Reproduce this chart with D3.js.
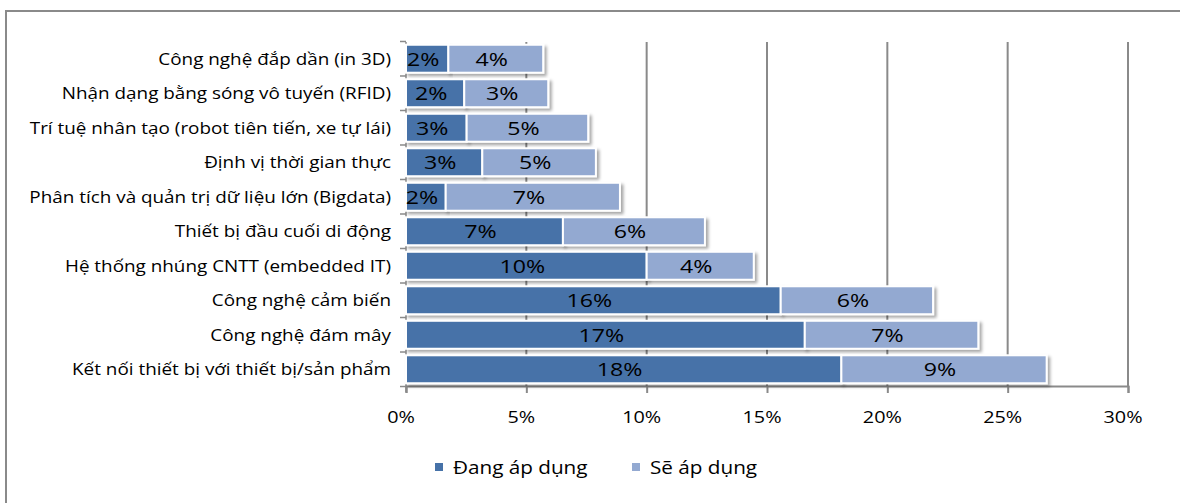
<!DOCTYPE html>
<html>
<head>
<meta charset="utf-8">
<script src="https://cdn.jsdelivr.net/npm/d3@7"></script>
<style>
  body { margin: 0; background: #fff; }
  svg { display: block; }
  text { font-family: "Open Sans", "Noto Sans", sans-serif; fill: #000; }
</style>
</head>
<body>
<svg id="chart" width="1180" height="503"></svg>
<script>
// Technologies, listed top to bottom
const categories = [
  "Công nghệ đắp dần (in 3D)",
  "Nhận dạng bằng sóng vô tuyến (RFID)",
  "Trí tuệ nhân tạo (robot tiên tiến, xe tự lái)",
  "Định vị thời gian thực",
  "Phân tích và quản trị dữ liệu lớn (Bigdata)",
  "Thiết bị đầu cuối di động",
  "Hệ thống nhúng CNTT (embedded IT)",
  "Công nghệ cảm biến",
  "Công nghệ đám mây",
  "Kết nối thiết bị với thiết bị/sản phẩm"
];
const seriesNames = ["Đang áp dụng", "Sẽ áp dụng"];
// Share of firms, in percent
const applying = [1.76, 2.42, 2.52, 3.17, 1.65, 6.52, 10.0, 15.57, 16.57, 18.09];
const planned  = [3.94, 3.49, 5.05, 4.72, 7.24, 5.90, 4.45, 6.33, 7.21, 8.53];
const xTicks = [0, 5, 10, 15, 20, 25, 30];

const colors = ["#4672a8", "#93a9d1"];
const gridColor = "#8a8a8a";

const svg = d3.select("#chart");
const plot = { left: 406, right: 1128, top: 42, bottom: 386 };

const x = d3.scaleLinear().domain([0, 30]).range([plot.left, plot.right]);
const y = d3.scaleBand().domain(categories).range([plot.top, plot.bottom])
  .paddingInner(0.19).paddingOuter(0.08);

// soft drop shadow under each bar segment
const defs = svg.append("defs");
const f = defs.append("filter").attr("id", "shadow")
  .attr("x", "-5%").attr("y", "-20%").attr("width", "115%").attr("height", "160%");
f.append("feDropShadow").attr("dx", 2.5).attr("dy", 2.5)
  .attr("stdDeviation", 1.6).attr("flood-color", "#000").attr("flood-opacity", 0.35);

// outer chart frame
svg.append("rect").attr("x", 6).attr("y", 11).attr("width", 1200).attr("height", 520)
  .attr("fill", "none").attr("stroke", gridColor).attr("stroke-width", 2);

// vertical gridlines
svg.append("g").selectAll("line").data(xTicks.slice(1)).join("line")
  .attr("x1", d => x(d)).attr("x2", d => x(d))
  .attr("y1", plot.top).attr("y2", plot.bottom)
  .attr("stroke", gridColor).attr("stroke-width", 2);

// bottom axis
const xAxis = d3.axisBottom(x).tickValues(xTicks).tickSize(7).tickFormat(() => "");
const gx = svg.append("g").attr("transform", `translate(0,${plot.bottom})`).call(xAxis);
gx.select(".domain").attr("stroke", gridColor).attr("stroke-width", 2);
gx.selectAll(".tick line").attr("stroke", gridColor).attr("stroke-width", 2);

svg.append("g").selectAll("text").data(xTicks).join("text")
  .attr("transform", d => `translate(${x(d) - 5},${423}) scale(1.2,1)`)
  .attr("text-anchor", "middle")
  .style("font-size", "16.5px")
  .text(d => d + "%");

// left category axis: ticks sit on band boundaries
const step = y.step();
const bounds = d3.range(categories.length + 1).map(i => y(categories[0]) - (step - y.bandwidth()) / 2 + i * step);
svg.append("line").attr("x1", plot.left).attr("x2", plot.left)
  .attr("y1", plot.top).attr("y2", plot.bottom + 6)
  .attr("stroke", gridColor).attr("stroke-width", 1.5);
svg.append("g").selectAll("line").data(bounds).join("line")
  .attr("x1", plot.left - 6).attr("x2", plot.left)
  .attr("y1", d => d).attr("y2", d => d)
  .attr("stroke", gridColor).attr("stroke-width", 1.5);

svg.append("g").selectAll("text").data(categories).join("text")
  .attr("transform", d => `translate(391,${y(d) + y.bandwidth() / 2}) scale(1.18,1)`)
  .attr("dy", "0.36em")
  .attr("text-anchor", "end")
  .style("font-size", "16px")
  .text(d => d);

// stacked bars
const rows = categories.map((c, i) => ({ c, a: applying[i], p: planned[i] }));
const segs = [];
rows.forEach(r => {
  segs.push({ c: r.c, s: 0, x0: 0, x1: r.a, v: r.a });
  segs.push({ c: r.c, s: 1, x0: r.a, x1: r.a + r.p, v: r.p });
});

const bars = svg.append("g");
bars.selectAll("rect").data(segs).join("rect")
  .attr("x", d => x(d.x0))
  .attr("y", d => y(d.c))
  .attr("width", d => x(d.x1) - x(d.x0))
  .attr("height", y.bandwidth())
  .attr("fill", d => colors[d.s])
  .attr("stroke", "#fff").attr("stroke-width", 2)
  .attr("filter", "url(#shadow)");

svg.append("g").selectAll("text").data(segs).join("text")
  .attr("transform", d => `translate(${(x(d.x0) + x(d.x1)) / 2 - 4},${y(d.c) + y.bandwidth() / 2}) scale(1.22,1)`)
  .attr("dy", "0.36em")
  .attr("text-anchor", "middle")
  .style("font-size", "19px")
  .text(d => Math.round(d.v) + "%");

// legend
const legend = svg.append("g");
const lx = [435, 632];
seriesNames.forEach((name, i) => {
  legend.append("rect").attr("x", lx[i]).attr("y", 463).attr("width", 8).attr("height", 8)
    .attr("fill", colors[i]);
  legend.append("text").attr("transform", `translate(${lx[i] + 18},474) scale(1.15,1)`)
    .style("font-size", "18px")
    .text(name);
});
</script>
</body>
</html>
